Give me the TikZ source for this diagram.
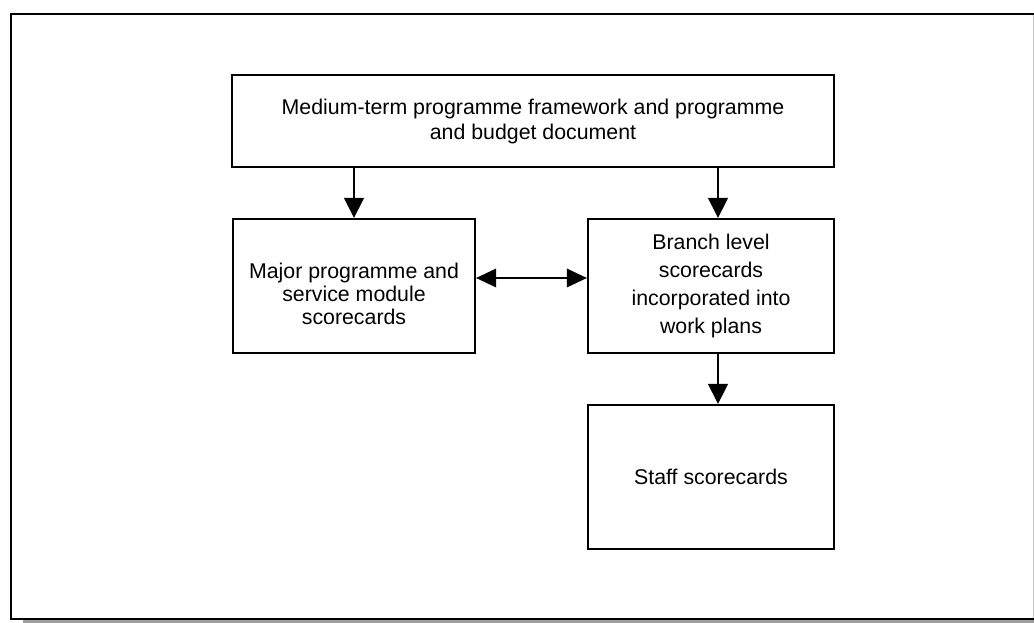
\documentclass[tikz,border=0pt]{standalone}
\usepackage{fontspec}
\setmainfont{Liberation Sans}
\usetikzlibrary{arrows.meta}
\begin{document}
\begin{tikzpicture}[x=0.75pt,y=-0.75pt,
  box/.style={draw, line width=1.7pt, rectangle, inner sep=0pt},
  txt/.style={align=center, inner sep=0pt},
  arr/.style={line width=0.8pt, -{Triangle[length=15pt,width=15pt]}},
  arrboth/.style={line width=0.8pt, {Triangle[length=15pt,width=14pt]}-{Triangle[length=15pt,width=14pt]}}]
\useasboundingbox (0,0) rectangle (1034,623);

% outer frame with its shadow
\fill[gray!75] (23,620.3) rectangle (1034,623);
\draw[gray!45, line width=0.75pt] (1033.4,14) -- (1033.4,619);
\draw[line width=1.8pt] (1034,14) -- (11,14) -- (11,619) -- (1034,619);

% boxes
\node[box, minimum width=451.5pt, minimum height=69pt] (mtpf) at (533,121) {};
\node[txt, font=\fontsize{16pt}{18.75pt}\selectfont] (mtpft) at (mtpf.center)
  {Medium-term programme framework and programme\\and budget document};

\node[box, minimum width=181.5pt, minimum height=100.5pt] (major) at (354,286) {};
\node[txt, font=\fontsize{16pt}{17.4pt}\selectfont] (majort) at ([yshift=-6pt]major.center)
  {Major programme and\\service module\\scorecards};

\node[box, minimum width=184.5pt, minimum height=100.5pt] (branch) at (711,286) {};
\node[txt, font=\fontsize{16pt}{21.2pt}\selectfont] (brancht) at (branch.center)
  {Branch level\\scorecards\\incorporated into\\work plans};

\node[box, minimum width=184.5pt, minimum height=108pt] (staff) at (711,477) {};
\node[txt, font=\fontsize{16pt}{19pt}\selectfont] (stafft) at (staff.center)
  {Staff scorecards};

% connectors
\coordinate (bn) at ([xshift=5.25pt]branch.north);
\coordinate (bs) at ([xshift=5.25pt]branch.south);
\coordinate (sn) at ([xshift=5.25pt]staff.north);
\draw[arr] (major.north |- mtpf.south) -- (major.north);
\draw[arr] (bn |- mtpf.south) -- (bn);
\draw[arr] (bs) -- (sn);
\draw[arrboth] ([yshift=6pt]major.east) -- ([yshift=6pt]branch.west);
\end{tikzpicture}
\end{document}
